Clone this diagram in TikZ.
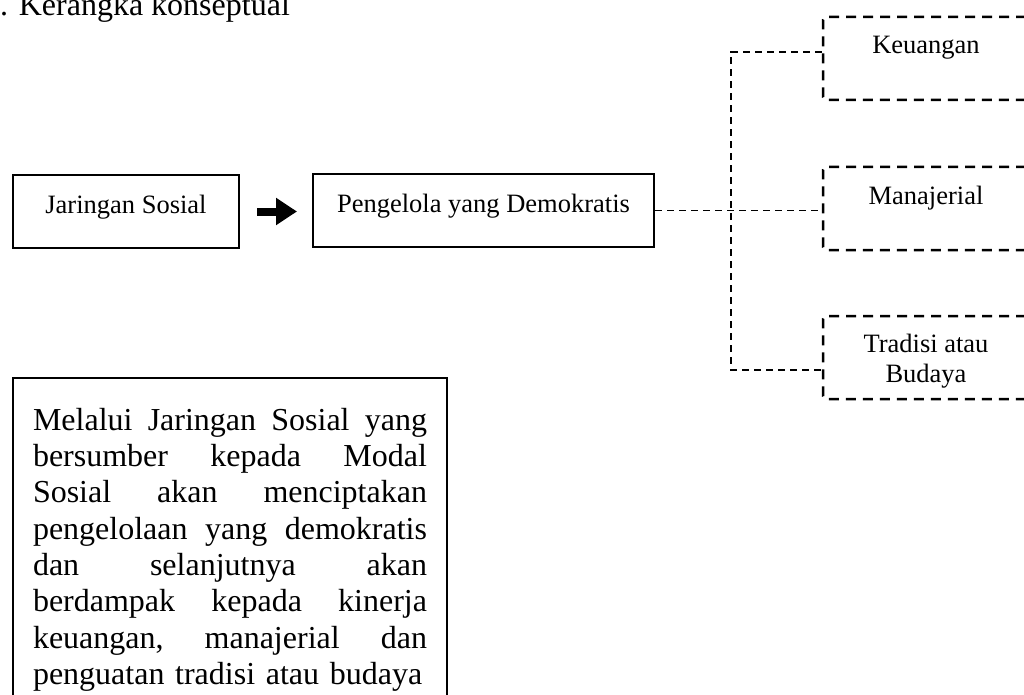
\documentclass[tikz,border=0pt]{standalone}
\usepackage{fontspec}
\setmainfont{Liberation Serif}
\usetikzlibrary{arrows.meta, positioning}

% satu baris rata kiri-kanan
\newcommand{\baris}[1]{\par\noindent\hbox to \linewidth{#1}}

\tikzset{
  kotak/.style={draw, line width=2pt, minimum height=73pt, inner sep=0pt,
    text height=20pt, text depth=17pt, font=\fontsize{26.5}{29.5}\selectfont},
  kotakputus/.style={draw, line width=2.5pt, dash pattern=on 10pt off 7pt,
    rounded corners=3pt, minimum width=206pt, minimum height=83pt, inner sep=0pt,
    align=center, text height=20pt, text depth=29pt,
    font=\fontsize{26.5}{29.5}\selectfont},
  garis/.style={line width=1.5pt, dash pattern=on 7pt off 5pt},
  panah/.style={line width=8pt, -{Triangle[length=21pt, width=26pt]}}
}

\begin{document}
\begin{tikzpicture}[x=1pt, y=-1pt]
  \useasboundingbox (0,0) rectangle (1024,695);
  \clip (0,0) rectangle (1024,695);

  % Judul
  \node[anchor=base west, inner sep=0pt, font=\fontsize{32}{36}\selectfont] (judul) at (0,16) {. Kerangka konseptual};

  % Kotak utama
  \node[kotak, minimum width=226pt] (jar) at (126,211.5) {Jaringan Sosial};
  \node[kotak, minimum width=341pt] (pen) at (483.5,210.5) {Pengelola yang Demokratis};

  % Kotak putus-putus
  \node[kotakputus] (keu) at (926,58.5) {Keuangan};
  \node[kotakputus] (man) at (926,208.5) {Manajerial};
  \node[kotakputus, text height=50pt, text depth=1pt] (tra) at (926,357.5) {Tradisi atau\\Budaya};

  % Panah
  \draw[panah, shorten <=17pt, shorten >=15pt] (jar.east) -- (jar.east -| pen.west);

  % Cabang
  \coordinate (atas) at (731,52);
  \coordinate (bawah) at (731,370);
  \draw[garis] (pen.east) -- (pen.east -| man.west);
  \draw[garis] (keu.west |- atas) -- (atas) -- (bawah) -- (tra.west |- bawah);

  % Keterangan
  \node[draw, line width=2pt, anchor=north west, inner xsep=20pt, inner ysep=16pt,
        text width=394pt, text depth=400pt, font=\fontsize{32}{36.3}\selectfont] (ket) at (12,377) {%
    \baris{Melalui\hfill Jaringan\hfill Sosial\hfill yang}
    \baris{bersumber\hfill kepada\hfill Modal}
    \baris{Sosial\hfill akan\hfill menciptakan}
    \baris{pengelolaan\hfill yang\hfill demokratis}
    \baris{dan\hfill selanjutnya\hfill akan}
    \baris{berdampak\hfill kepada\hfill kinerja}
    \baris{keuangan,\hfill manajerial\hfill dan}
    \baris{penguatan tradisi atau budaya\hfill}};
\end{tikzpicture}
\end{document}
